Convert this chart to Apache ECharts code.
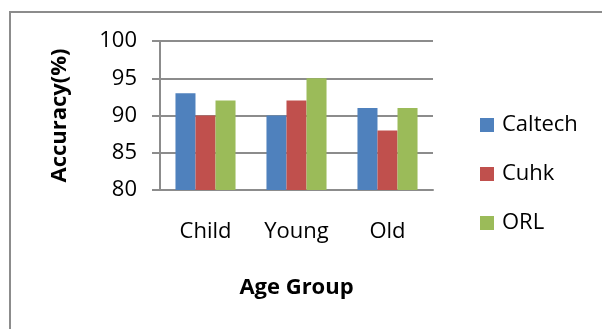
<!DOCTYPE html>
<html>
<head>
<meta charset="utf-8">
<script src="https://cdn.jsdelivr.net/npm/echarts@6/dist/echarts.min.js"></script>
<style>
html,body{margin:0;padding:0;background:#fff;}
#chart{width:602px;height:329px;}
</style>
</head>
<body>
<div id="chart"></div>
<script>
var categories = ['Child', 'Young', 'Old'];
var caltech = [93, 90, 91];
var cuhk = [90, 92, 88];
var orl = [92, 95, 91];
var seriesNames = ['Caltech', 'Cuhk', 'ORL'];
var colors = ['#4F81BD', '#C0504D', '#9BBB59'];

var FONT = '"Open Sans", "Liberation Sans", sans-serif';
var GRAY = '#8c8c8c';

var chart = echarts.init(document.getElementById('chart'), null, {renderer: 'canvas'});
var values = [caltech, cuhk, orl];
chart.setOption({
  animation: false,
  backgroundColor: '#fff',
  color: colors,
  graphic: [{
    type: 'rect',
    shape: {x: 10, y: 12, width: 700, height: 400},
    style: {fill: 'none', stroke: GRAY, lineWidth: 2},
    silent: true
  }],
  grid: {left: 160, right: 169, top: 41, bottom: 139, containLabel: false},
  legend: {
    orient: 'vertical',
    left: 475,
    top: 107,
    icon: 'rect',
    itemWidth: 14,
    itemHeight: 14,
    itemGap: 23,
    textStyle: {fontFamily: FONT, fontSize: 22, lineHeight: 26, color: '#000', padding: [0, 0, 0, 3]},
    data: seriesNames
  },
  xAxis: {
    type: 'category',
    data: categories,
    name: 'Age Group',
    nameLocation: 'middle',
    nameGap: 87,
    nameTextStyle: {fontFamily: FONT, fontSize: 22, fontWeight: 'bold', color: '#000'},
    axisLine: {show: true, lineStyle: {color: GRAY, width: 2}},
    axisTick: {show: false},
    axisLabel: {fontFamily: FONT, fontSize: 22, color: '#000', margin: 31},
    splitLine: {show: false}
  },
  yAxis: {
    type: 'value',
    min: 80,
    max: 100,
    interval: 5,
    name: 'Accuracy(%)',
    nameLocation: 'middle',
    nameGap: 89,
    nameTextStyle: {fontFamily: FONT, fontSize: 22, fontWeight: 'bold', color: '#000'},
    axisLine: {show: true, lineStyle: {color: GRAY, width: 2}},
    axisTick: {show: true, length: 8, lineStyle: {color: GRAY, width: 2}},
    axisLabel: {fontFamily: FONT, fontSize: 22, color: '#000', margin: 23},
    splitLine: {show: true, lineStyle: {color: GRAY, width: 2}}
  },
  series: seriesNames.map(function (n, i) {
    return {
      name: n,
      type: 'bar',
      data: values[i],
      barGap: '0%',
      barCategoryGap: '34%',
      itemStyle: {color: colors[i]}
    };
  })
});
</script>
</body>
</html>
